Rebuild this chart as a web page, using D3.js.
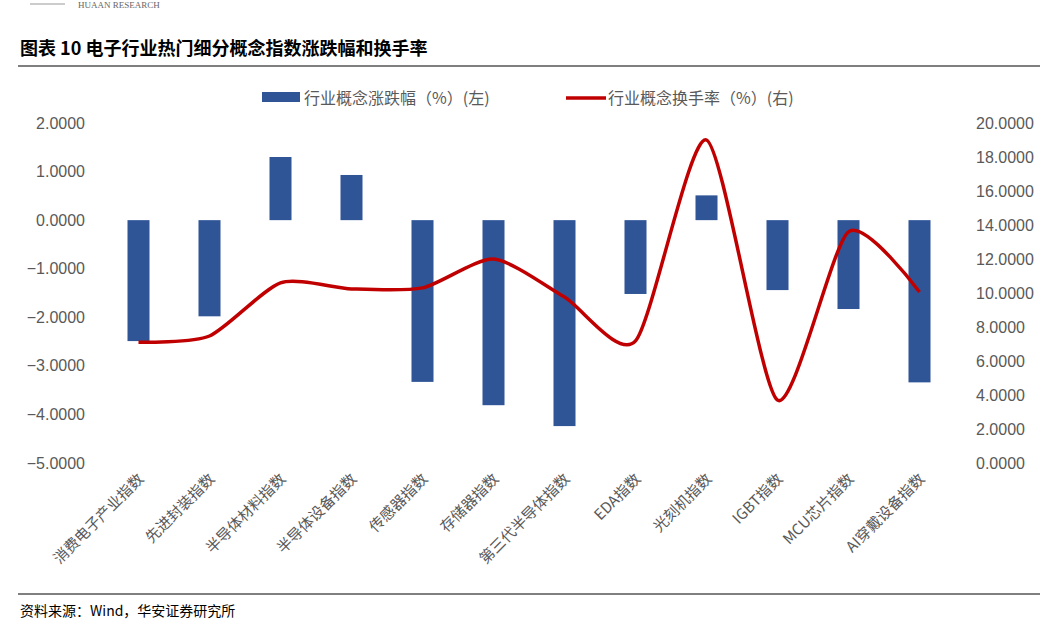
<!DOCTYPE html>
<html><head><meta charset="utf-8">
<script src="https://cdn.jsdelivr.net/npm/d3@7"></script>
<style>body{margin:0;background:#fff;font-family:"Liberation Sans","Noto Sans CJK SC",sans-serif}</style>
</head><body><div id="chart"></div>
<script>
// chart data
var categories = ["消费电子产业指数","先进封装指数","半导体材料指数","半导体设备指数","传感器指数","存储器指数","第三代半导体指数","EDA指数","光刻机指数","IGBT指数","MCU芯片指数","AI穿戴设备指数"];
var changeValues = [-2.49,-1.98,1.30,0.93,-3.33,-3.81,-4.24,-1.52,0.51,-1.44,-1.83,-3.34];
var turnoverValues = [7.1,7.47,10.6,10.24,10.3,12.0,9.76,7.18,19.0,3.7,13.6,10.06];
var leftTicks = [2,1,0,-1,-2,-3,-4,-5];
var rightTicks = [0,2,4,6,8,10,12,14,16,18,20];

var W = 1046, H = 625;
var svg = d3.select("#chart").append("svg").attr("width", W).attr("height", H);

// header
svg.append("line").attr("x1",30).attr("x2",65).attr("y1",4).attr("y2",4).attr("stroke","#999");
svg.append("text").attr("x",78).attr("y",8).attr("font-size",9).attr("fill","#666")
  .attr("font-family","Liberation Serif").text("HUAAN RESEARCH");
svg.append("text").attr("x",20).attr("y",55).attr("font-size",18).attr("font-weight","bold")
  .attr("font-family","Noto Sans CJK SC").text("图表 10 电子行业热门细分概念指数涨跌幅和换手率");
svg.append("line").attr("x1",18).attr("x2",1040).attr("y1",66).attr("y2",66).attr("stroke","#000").attr("stroke-width",1.2);

// footer
svg.append("line").attr("x1",18).attr("x2",1040).attr("y1",594).attr("y2",594).attr("stroke","#000").attr("stroke-width",1);
svg.append("text").attr("x",20).attr("y",616).attr("font-size",14).attr("font-family","Noto Sans CJK SC")
  .text("资料来源：Wind，华安证券研究所");

var x = d3.scaleBand().domain(categories).range([103, 955]);
var yL = d3.scaleLinear().domain([-5, 2]).range([463, 123]);
var yR = d3.scaleLinear().domain([0, 20]).range([463, 123]);

// axis labels
svg.append("g").attr("transform","translate(88,0)")
  .call(d3.axisLeft(yL).tickValues(leftTicks).tickSize(0).tickFormat(d3.format(".4f")))
  .call(g => g.select(".domain").remove())
  .selectAll("text").attr("font-size",16).attr("fill","#595959").attr("font-family","Liberation Sans");
svg.append("g").attr("transform","translate(973,0)")
  .call(d3.axisRight(yR).tickValues(rightTicks).tickSize(0).tickFormat(d3.format(".4f")))
  .call(g => g.select(".domain").remove())
  .selectAll("text").attr("font-size",16).attr("fill","#595959").attr("font-family","Liberation Sans");

// bars
svg.selectAll("rect.bar").data(categories).enter().append("rect")
  .attr("x", d => x(d) + x.bandwidth()/2 - 11)
  .attr("width", 22)
  .attr("y", (d,i) => yL(Math.max(0, changeValues[i])))
  .attr("height", (d,i) => Math.abs(yL(changeValues[i]) - yL(0)))
  .attr("fill", "#2F5597");

// line
var line = d3.line().x((d,i) => x(categories[i]) + x.bandwidth()/2).y(d => yR(d)).curve(d3.curveCardinal.tension(0.3));
svg.append("path").datum(turnoverValues).attr("d", line).attr("fill","none").attr("stroke","#C00000").attr("stroke-width",3.5);

// category labels
svg.append("g").selectAll("text").data(categories).enter().append("text")
  .attr("transform", d => "translate(" + (x(d) + x.bandwidth()/2 + 6) + ",480) rotate(-45)")
  .attr("text-anchor","end").attr("font-size",15).attr("fill","#595959")
  .attr("font-family","Noto Sans CJK SC").text(d => d);

// legend
svg.append("rect").attr("x",262).attr("y",92).attr("width",38).attr("height",10).attr("fill","#2F5597");
svg.append("text").attr("x",304).attr("y",104).attr("font-size",16).attr("fill","#595959")
  .attr("font-family","Noto Sans CJK SC").text("行业概念涨跌幅（%）(左)");
svg.append("line").attr("x1",566).attr("x2",606).attr("y1",98).attr("y2",98).attr("stroke","#C00000").attr("stroke-width",3.5);
svg.append("text").attr("x",608).attr("y",104).attr("font-size",16).attr("fill","#595959")
  .attr("font-family","Noto Sans CJK SC").text("行业概念换手率（%）(右)");
</script></body></html>
